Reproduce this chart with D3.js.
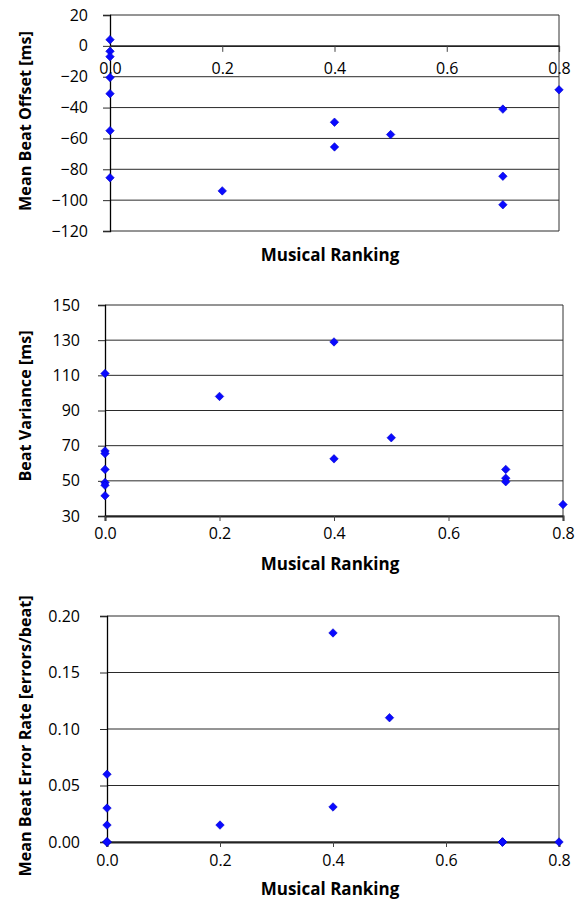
<!DOCTYPE html>
<html>
<head>
<meta charset="utf-8">
<script src="https://cdn.jsdelivr.net/npm/d3@7"></script>
<style>
  html, body { margin: 0; padding: 0; background: #fff; }
  svg { display: block; }
  text { font-family: "Open Sans", "Noto Sans", sans-serif; fill: #000; }
</style>
</head>
<body>
<svg id="chart" width="580" height="901"></svg>
<script>
// ---- data ----
const ranking    = [0, 0, 0, 0, 0, 0, 0, 0.2, 0.4, 0.4, 0.5, 0.7, 0.7, 0.7, 0.8];
const beatOffset = [4, -3.5, -7, -20.5, -31, -55, -85.5, -94, -49.5, -65.5, -57.5, -41, -84.5, -103, -28.5];
const beatVariance = [111, 67, 65.5, 56.5, 49, 47.5, 41.5, 98, 129, 62.5, 74.5, 56.5, 51.5, 49.5, 36.5];
const errorRate  = [0.06, 0.03, 0.015, 0, 0, 0, 0, 0.015, 0.185, 0.031, 0.11, 0, 0, 0, 0];

const xTicks = [0, 0.2, 0.4, 0.6, 0.8];
const offsetTicks = [-120, -100, -80, -60, -40, -20, 0, 20];
const varianceTicks = [30, 50, 70, 90, 110, 130, 150];
const errorTicks = [0, 0.05, 0.10, 0.15, 0.20];

const xTitle = "Musical Ranking";
const titles = ["Mean Beat Offset [ms]", "Beat Variance [ms]", "Mean Beat Error Rate [errors/beat]"];

// ---- layout ----
const svg = d3.select("#chart");
const charts = [
  { values: beatOffset, yTicks: offsetTicks, yFmt: d3.format("d"), title: titles[0],
    left: 110, right: 559, top: 15, bottom: 231, xAxisAt: 0,
    yPad: 15, xTickSize: 6, xPad: 11, xTitleY: 255, yTitleX: 25, yTitleY: 121 },
  { values: beatVariance, yTicks: varianceTicks, yFmt: d3.format("d"), title: titles[1],
    left: 105, right: 563, top: 305, bottom: 516, xAxisAt: null,
    yPad: 18, xTickSize: 5, xPad: 7, xTitleY: 564, yTitleX: 25, yTitleY: 406 },
  { values: errorRate, yTicks: errorTicks, yFmt: d3.format(".2f"), title: titles[2],
    left: 107, right: 559, top: 616, bottom: 842, xAxisAt: null,
    yPad: 20, xTickSize: 5, xPad: 8, xTitleY: 889, yTitleX: 25, yTitleY: 736 }
];

const diamond = d3.symbol().type(d3.symbolDiamond2).size(46);

charts.forEach(c => {
  const yExt = d3.extent(c.yTicks);
  const x = d3.scaleLinear().domain([0, 0.8]).range([c.left, c.right]);
  const y = d3.scaleLinear().domain(yExt).range([c.bottom, c.top]);
  const g = svg.append("g");

  // gridlines
  g.append("g").selectAll("line").data(c.yTicks).join("line")
    .attr("x1", c.left).attr("x2", c.right)
    .attr("y1", d => y(d)).attr("y2", d => y(d))
    .attr("stroke", "#2a2a2a").attr("stroke-width", 1);

  // right border
  g.append("line").attr("x1", c.right).attr("x2", c.right)
    .attr("y1", c.top).attr("y2", c.bottom).attr("stroke", "#333").attr("stroke-width", 1);

  // y axis
  const yAxis = d3.axisLeft(y).tickValues(c.yTicks).tickFormat(c.yFmt)
    .tickSize(7).tickPadding(c.yPad);
  const ya = g.append("g").attr("transform", `translate(${c.left},0)`).call(yAxis);
  ya.select(".domain").attr("stroke", "#000").attr("stroke-width", 1.3);
  ya.selectAll(".tick line").attr("stroke", "#2a2a2a");
  ya.selectAll("text").attr("font-size", 16).attr("fill", "#000")
    .style("font-family", '"Open Sans", sans-serif');

  // x axis
  const xPos = c.xAxisAt === null ? c.bottom : y(c.xAxisAt);
  const xAxis = d3.axisBottom(x).tickValues(xTicks).tickFormat(d3.format(".1f"))
    .tickSize(c.xTickSize).tickPadding(c.xPad);
  const xa = g.append("g").attr("transform", `translate(0,${xPos})`).call(xAxis);
  xa.select(".domain").attr("stroke", "#222").attr("stroke-width", c.xAxisAt === null ? 2 : 1.2);
  xa.selectAll(".tick line").attr("stroke", "#444");
  xa.selectAll("text").attr("font-size", 16).attr("fill", "#000")
    .style("font-family", '"Open Sans", sans-serif');

  // points
  g.append("g").selectAll("path").data(c.values).join("path")
    .attr("d", diamond)
    .attr("transform", (d, i) => `translate(${x(ranking[i])},${y(d)})`)
    .attr("fill", "#0a0aff").attr("stroke", "#0000cc").attr("stroke-width", 0.6);

  // titles
  g.append("text").attr("x", 330).attr("y", c.xTitleY).attr("dy", "0.35em")
    .attr("text-anchor", "middle").attr("font-size", 17).attr("font-weight", "bold")
    .text(xTitle);
  g.append("text")
    .attr("transform", `translate(${c.yTitleX},${c.yTitleY}) rotate(-90)`)
    .attr("dy", "0.35em").attr("text-anchor", "middle")
    .attr("font-size", 16.2).attr("font-weight", "bold")
    .text(c.title);
});
</script>
</body>
</html>
